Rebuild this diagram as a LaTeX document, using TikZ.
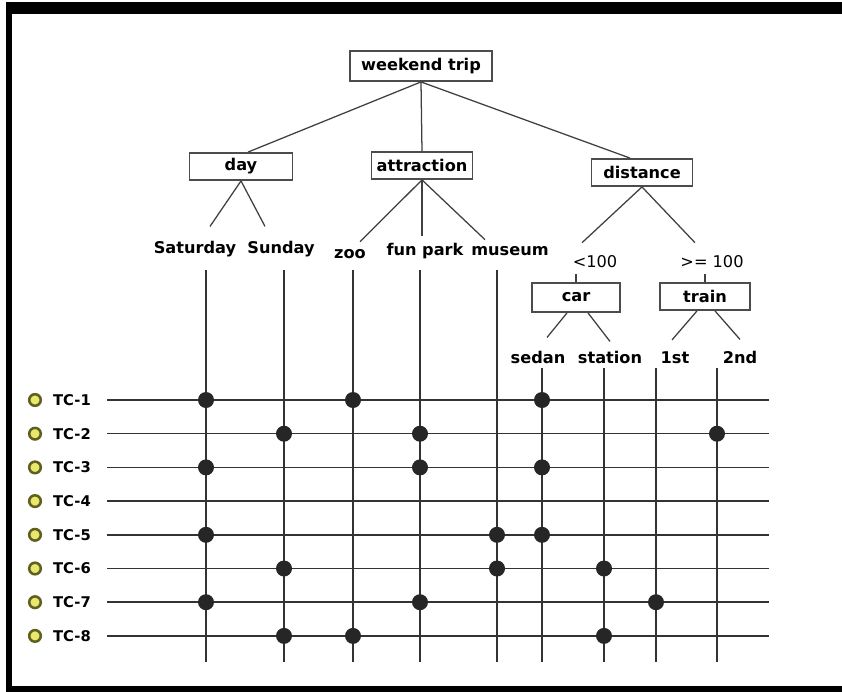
\documentclass[tikz,border=0pt]{standalone}
\usepackage{fontspec}
\setmainfont{DejaVu Sans}
\usetikzlibrary{positioning}

\definecolor{tcyellow}{RGB}{232,232,110}
\definecolor{tcolive}{RGB}{95,95,30}

\begin{document}
\begin{tikzpicture}[x=0.025cm, y=-0.025cm,
    box/.style={draw=black!70, line width=1.3pt, inner sep=0pt, minimum height=0.675cm,
        font=\fontsize{11.5}{13}\selectfont\bfseries},
    leaf/.style={inner sep=0pt, anchor=base, font=\fontsize{11.5}{13}\selectfont\bfseries},
    bound/.style={inner sep=0pt, anchor=base, font=\fontsize{11.5}{13}\selectfont},
    branch/.style={draw=black!75, line width=0.9pt},
    gridline/.style={draw=black!80, line width=1.1pt},
    tcmark/.style={circle, draw=tcolive, fill=tcyellow, line width=1.8pt, minimum size=0.29cm, inner sep=0pt},
    tclabel/.style={inner sep=0pt, font=\fontsize{10.5}{12}\selectfont\bfseries},
    dotfill/.style={fill=black!85}]
    % One pixel of the screenshot
    \def\px{0.025cm}

    % Frame of the screenshot
    \useasboundingbox (0,0) rectangle (842,691);
    \fill[white] (0,0) rectangle (850,700);
    \fill[black] (6,2) rectangle (850,700);
    \fill[white] (12,14) rectangle (850,686);

    % Classification tree
    \node[box, minimum width=3.55cm, minimum height=0.75cm] (trip) at (421,66) {weekend trip};
    \node[box, minimum width=2.575cm] (day) at (241,166.5) {day};
    \node[box, minimum width=2.525cm] (attr) at (422,165.5) {attraction};
    \node[box, minimum width=2.525cm] (dist) at (642,172.5) {distance};
    \node[box, minimum width=2.2cm, minimum height=0.725cm] (car) at (576,297.5) {car};
    \node[box, minimum width=2.25cm] (train) at (705,296.5) {train};

    % Classes
    \node[leaf] (sat) at (195,253) {Saturday};
    \node[leaf] (sun) at (281,253) {Sunday};
    \node[leaf] (zoo) at (350,258) {zoo};
    \node[leaf] (fun) at (425,255) {fun park};
    \node[leaf] (mus) at (510,255) {museum};
    \node[bound] (lt) at (595,267) {<100};
    \node[bound] (ge) at (712,267) {>= 100};
    \node[leaf] (sedan) at (538,363) {sedan};
    \node[leaf] (station) at (610,363) {station};
    \node[leaf] (first) at (675,363) {1st};
    \node[leaf] (second) at (740,363) {2nd};

    % Branches
    \draw[branch] (trip.south) -- ([xshift=7*\px]day.north);
    \draw[branch] (trip.south) -- (attr.north);
    \draw[branch] (trip.south) -- ([xshift=-12*\px]dist.north);
    \draw[branch] (day.south) -- ([xshift=15*\px, yshift=14*\px]sat.north);
    \draw[branch] (day.south) -- ([xshift=-16*\px, yshift=14*\px]sun.north);
    \draw[branch] (attr.south) -- ([xshift=10*\px, yshift=7*\px]zoo.north);
    \draw[branch] (attr.south) -- ([xshift=-3*\px, yshift=6*\px]fun.north);
    \draw[branch] (attr.south) -- ([xshift=-25*\px, yshift=6*\px]mus.north);
    \draw[branch] (dist.south) -- ([xshift=-13*\px, yshift=12*\px]lt.north);
    \draw[branch] (dist.south) -- ([xshift=-17*\px, yshift=12*\px]ge.north);
    \draw[branch, shorten >=0.15cm] (car.north) -- (car.north |- lt.south);
    \draw[branch, shorten >=0.15cm] (train.north) -- (train.north |- ge.south);
    \draw[branch] ([xshift=-9*\px]car.south) -- ([xshift=9*\px, yshift=13*\px]sedan.north);
    \draw[branch] ([xshift=12*\px]car.south) -- ([yshift=9*\px]station.north);
    \draw[branch] ([xshift=-8*\px]train.south) -- ([xshift=-3*\px, yshift=11*\px]first.north);
    \draw[branch] ([xshift=10*\px]train.south) -- ([yshift=11*\px]second.north);

    % Columns of the test case table
    \foreach \n/\x/\t in {1/206/270, 2/284/270, 3/353/270, 4/420/270, 5/497/270,
                          6/542/368, 7/604/368, 8/656/368, 9/717/368} {
        \coordinate (top\n) at (\x,\t);
        \coordinate (bot\n) at (\x,662);
        \draw[gridline] (top\n) -- (bot\n);
    }

    % Rows, one for each test case
    \foreach \i [evaluate=\i as \y using {400+33.7*(\i-1)}] in {1,...,8} {
        \node[tcmark] (m\i) at (35,\y) {};
        \node[tclabel, right=0.27cm of m\i] (tc\i) {TC-\i};
        \coordinate (left\i) at (107,\y);
        \coordinate (right\i) at (769,\y);
        \draw[gridline] (left\i) -- (right\i);
    }

    % Chosen classes (row/column)
    \foreach \r/\c in {1/1, 1/3, 1/6, 2/2, 2/4, 2/9, 3/1, 3/4, 3/6,
                       5/1, 5/5, 5/6, 6/2, 6/5, 6/7, 7/1, 7/4, 7/8, 8/2, 8/3, 8/7}
        \fill[dotfill] (top\c |- left\r) circle (0.2cm);
\end{tikzpicture}
\end{document}
